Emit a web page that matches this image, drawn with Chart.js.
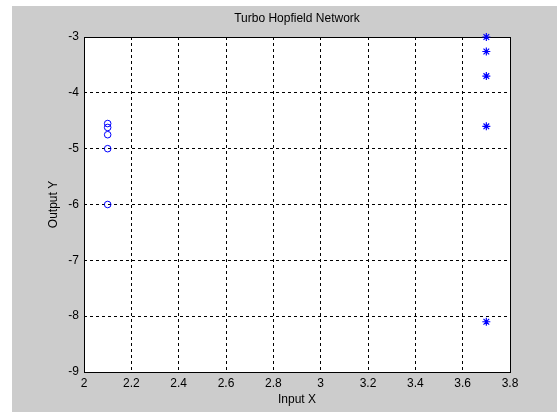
<!DOCTYPE html>
<html>
<head>
<meta charset="utf-8">
<title>Turbo Hopfield Network</title>
<script src="https://cdn.jsdelivr.net/npm/chart.js@4/dist/chart.umd.min.js"></script>
<style>
  html, body { margin: 0; padding: 0; background: #fff; }
  canvas { display: block; }
</style>
</head>
<body>
<canvas id="hopfield-chart" width="557" height="412"></canvas>
<script>
const xTicks = [2, 2.2, 2.4, 2.6, 2.8, 3, 3.2, 3.4, 3.6, 3.8];
const yTicks = [-9, -8, -7, -6, -5, -4, -3];

// "o" markers
const circleX = [2.1, 2.1, 2.1, 2.1, 2.1];
const circleY = [-4.55, -4.62, -4.75, -5.0, -6.0];

// "*" markers
const starX = [3.7, 3.7, 3.7, 3.7, 3.7];
const starY = [-3.0, -3.26, -3.7, -4.6, -8.1];

const fontFamily = "'Liberation Sans', Arial, Helvetica, sans-serif";
const chartTitle = "Turbo Hopfield Network";

function toPoints(xs, ys) {
  return xs.map((x, i) => ({ x: x, y: ys[i] }));
}

// Figure background, white plot box, and the axes title
const figurePlugin = {
  id: "figure",
  beforeDraw(chart) {
    const ctx = chart.ctx;
    const area = chart.chartArea;
    ctx.save();
    ctx.fillStyle = "#ffffff";
    ctx.fillRect(0, 0, chart.width, chart.height);
    ctx.fillStyle = "#cccccc";
    ctx.fillRect(12, 6, chart.width - 12, chart.height - 6);
    ctx.fillStyle = "#ffffff";
    ctx.fillRect(area.left, area.top, area.right - area.left, area.bottom - area.top);
    ctx.restore();
  },
  beforeDatasetsDraw(chart) {
    const ctx = chart.ctx;
    const area = chart.chartArea;
    ctx.save();
    ctx.strokeStyle = "#000000";
    ctx.lineWidth = 1;
    ctx.strokeRect(area.left + 0.5, area.top + 0.5, area.right - area.left, area.bottom - area.top);
    ctx.fillStyle = "#000000";
    ctx.font = "12px " + fontFamily;
    ctx.textAlign = "center";
    ctx.textBaseline = "middle";
    ctx.fillText(chartTitle, (area.left + area.right) / 2, 19);
    ctx.restore();
  }
};

const hopfieldChart = new Chart(document.getElementById("hopfield-chart"), {
  type: "scatter",
  data: {
    datasets: [
      {
        label: "o",
        data: toPoints(circleX, circleY),
        pointStyle: "circle",
        pointRadius: 3.3,
        borderColor: "#0000ff",
        backgroundColor: "rgba(0,0,0,0)",
        borderWidth: 1,
        clip: false
      },
      {
        label: "*",
        data: toPoints(starX, starY),
        pointStyle: "star",
        pointRadius: 4,
        borderColor: "#0000ff",
        backgroundColor: "#0000ff",
        borderWidth: 1.2,
        clip: false
      }
    ]
  },
  options: {
    responsive: false,
    animation: false,
    devicePixelRatio: 1,
    layout: {
      padding: { left: 0, top: 37, right: 47, bottom: 0 }
    },
    plugins: {
      legend: { display: false },
      tooltip: { enabled: false },
      title: { display: false }
    },
    scales: {
      x: {
        type: "linear",
        min: 2,
        max: 3.8,
        afterFit(scale) { scale.height = 40; },
        afterBuildTicks(scale) { scale.ticks = xTicks.map(v => ({ value: v })); },
        grid: { color: "#000000", lineWidth: 1, drawTicks: false },
        border: { display: false, dash: [3, 3] },
        ticks: {
          color: "#000000",
          padding: 4,
          maxRotation: 0,
          autoSkip: false,
          font: { family: fontFamily, size: 12 },
          callback: v => String(Number(v.toFixed(1)))
        },
        title: {
          display: true,
          text: "Input X",
          color: "#000000",
          padding: { top: 0, bottom: 5 },
          font: { family: fontFamily, size: 12 }
        }
      },
      y: {
        type: "linear",
        min: -9,
        max: -3,
        afterFit(scale) { scale.width = 84; },
        afterBuildTicks(scale) { scale.ticks = yTicks.map(v => ({ value: v })); },
        grid: { color: "#000000", lineWidth: 1, drawTicks: false },
        border: { display: false, dash: [3, 3] },
        ticks: {
          color: "#000000",
          padding: 5,
          autoSkip: false,
          font: { family: fontFamily, size: 12 },
          callback: v => String(v)
        },
        title: {
          display: true,
          text: "Output Y",
          color: "#000000",
          padding: { top: 46, bottom: 0 },
          font: { family: fontFamily, size: 12 }
        }
      }
    }
  },
  plugins: [figurePlugin]
});
</script>
</body>
</html>
